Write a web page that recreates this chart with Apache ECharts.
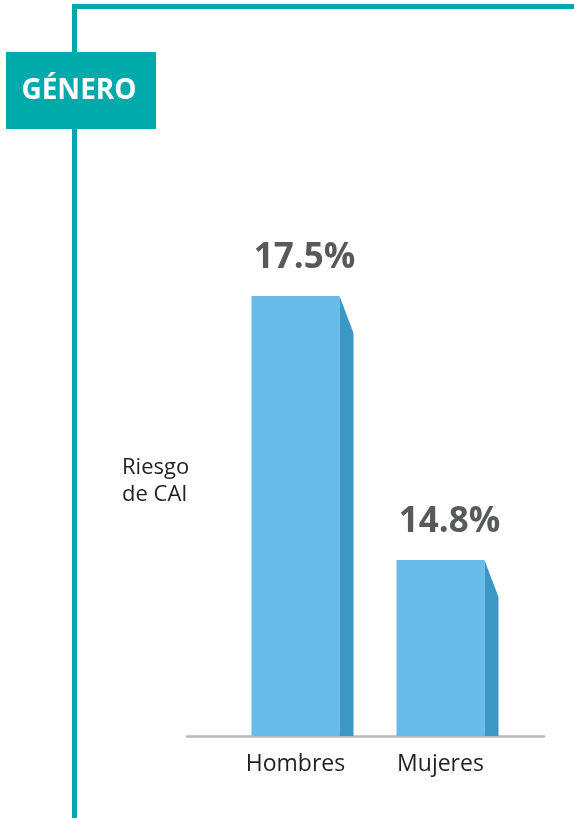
<!DOCTYPE html>
<html>
<head>
<meta charset="utf-8">
<title>Género - Riesgo de CAI</title>
<script src="https://cdn.jsdelivr.net/npm/echarts@6/dist/echarts.min.js"></script>
<style>
  html, body { margin: 0; padding: 0; background: #ffffff; }
  #chart { width: 574px; height: 818px; }
</style>
</head>
<body>
<div id="chart"></div>
<script>
// Categories and risk values (percent)
const categories = ['Hombres', 'Mujeres'];
const riskValues = [17.5, 14.8];
const axisMin = 13;
const axisMax = 18;

const TEAL = '#00a9aa';
const FRONT = '#69bbe9';
const SIDE = '#3d97c5';
const LABEL = '#58595b';
const TEXT = '#231f20';

const chart = echarts.init(document.getElementById('chart'), null, { renderer: 'canvas' });

// Bar with a darker, bevelled side face and a value label on top
function renderBar(params, api) {
  const top = api.coord([api.value(0), api.value(1)]);
  const base = api.coord([api.value(0), axisMin]);
  const band = api.size([1, 0])[0];
  const frontW = band * 0.607;
  const sideW = 14;
  const drop = 37;
  const left = top[0] - frontW / 2;
  const right = top[0] + frontW / 2;
  return {
    type: 'group',
    children: [
      {
        type: 'rect',
        shape: { x: left, y: top[1], width: frontW, height: base[1] - top[1] },
        style: { fill: FRONT }
      },
      {
        type: 'polygon',
        shape: { points: [[right, top[1]], [right + sideW, top[1] + drop], [right + sideW, base[1]], [right, base[1]]] },
        style: { fill: SIDE }
      },
      {
        type: 'text',
        x: top[0] + 9,
        y: top[1] - 38,
        style: {
          text: api.value(1).toFixed(1) + '%',
          fill: LABEL,
          font: 'bold 35px "Open Sans", sans-serif',
          align: 'center',
          verticalAlign: 'middle'
        }
      }
    ]
  };
}

const option = {
  backgroundColor: '#ffffff',
  animation: false,
  grid: [
    { left: 223, right: 61, top: 247, bottom: 82 },
    { left: 187, right: 30, top: 247, bottom: 82 }
  ],
  title: {
    text: 'Riesgo\nde CAI',
    left: 122,
    top: 454,
    padding: 0,
    textStyle: {
      color: TEXT,
      fontFamily: '"Open Sans", sans-serif',
      fontWeight: 'normal',
      fontSize: 22,
      lineHeight: 27
    }
  },
  xAxis: [
    {
      type: 'category',
      gridIndex: 0,
      data: categories,
      axisLine: { show: false },
      axisTick: { show: false },
      axisLabel: {
        color: TEXT,
        fontFamily: '"Open Sans", sans-serif',
        fontSize: 23,
        margin: 17
      }
    },
    {
      type: 'category',
      gridIndex: 1,
      data: [''],
      axisLine: { show: true, lineStyle: { color: '#b9b9bd', width: 2.5 } },
      axisTick: { show: false },
      axisLabel: { show: false }
    }
  ],
  yAxis: [
    {
      type: 'value',
      gridIndex: 0,
      min: axisMin,
      max: axisMax,
      show: false
    },
    {
      type: 'value',
      gridIndex: 1,
      min: 0,
      max: 1,
      show: false
    }
  ],
  series: [
    {
      type: 'custom',
      xAxisIndex: 0,
      yAxisIndex: 0,
      renderItem: renderBar,
      data: categories.map((c, i) => [i, riskValues[i]]),
      z: 3
    }
  ],
  graphic: [
    // frame: top rule and left rule
    { type: 'rect', shape: { x: 72, y: 4, width: 502, height: 5 }, style: { fill: TEAL }, z: 1 },
    { type: 'rect', shape: { x: 72, y: 4, width: 5, height: 814 }, style: { fill: TEAL }, z: 1 },
    // section tag
    { type: 'rect', shape: { x: 6, y: 52, width: 150, height: 77 }, style: { fill: TEAL }, z: 2 },
    {
      type: 'text',
      x: 79,
      y: 91,
      z: 3,
      style: {
        text: 'GÉNERO',
        fill: '#ffffff',
        font: 'bold 28px "Open Sans", sans-serif',
        align: 'center',
        verticalAlign: 'middle'
      }
    }
  ]
};

chart.setOption(option);
</script>
</body>
</html>
